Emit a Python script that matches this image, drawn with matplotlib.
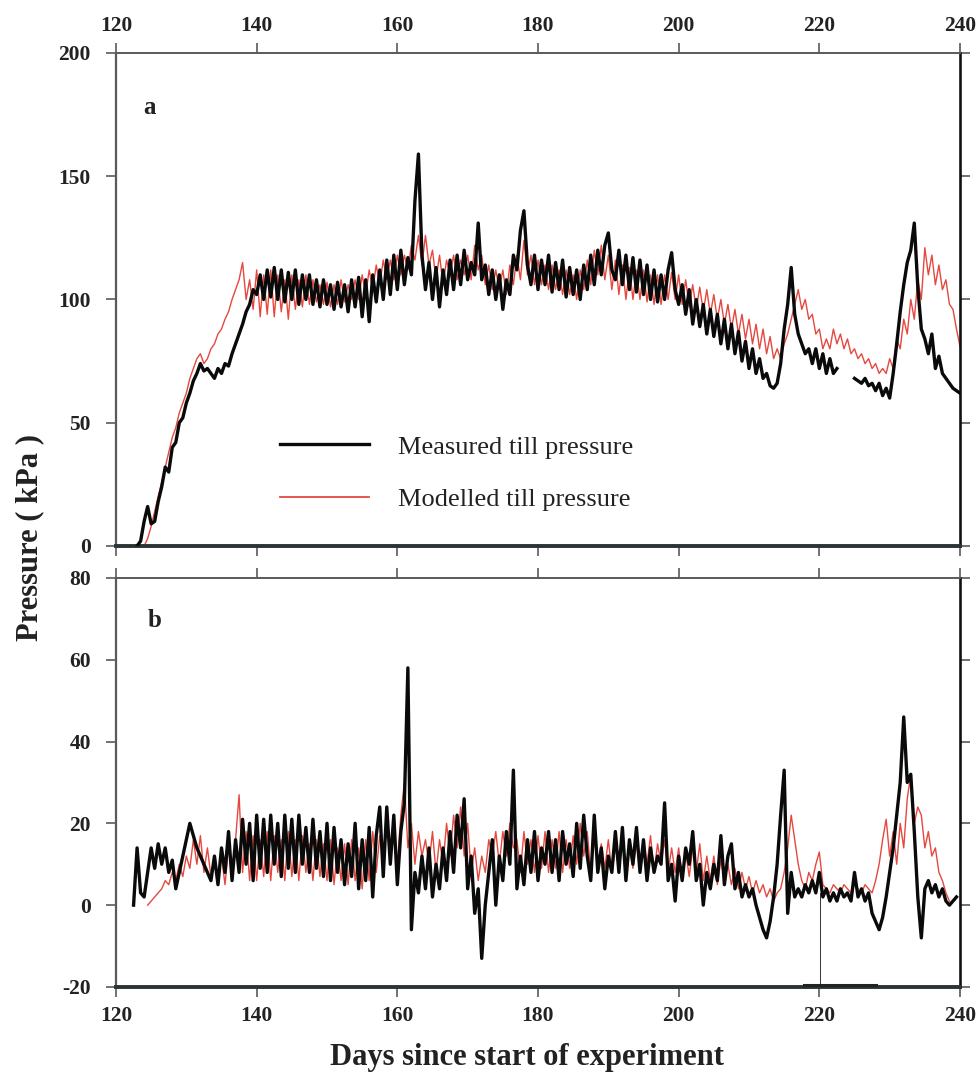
import numpy as np
import matplotlib.pyplot as plt

nan = np.nan

# panel a: till pressure (kPa), half-day steps
measured_a_start = 123.0
measured_a = [
    0, 2, 10, 16, 9, 10, 18, 24, 32, 30,            # 123
    40, 42, 50, 52, 58, 62, 67, 70, 74, 71,         # 128
    72, 70, 68, 72, 70, 74, 73, 78, 82, 86,         # 133
    90, 95, 98, 104, 102, 110, 100, 112, 101, 113,  # 138
    100, 112, 99, 111, 100, 112, 98, 110, 100, 110, # 143
    98, 108, 97, 108, 98, 106, 96, 107, 97, 106,    # 148
    95, 108, 97, 109, 93, 108, 91, 110, 99, 112,    # 153
    100, 116, 102, 118, 104, 120, 106, 117, 110, 140,  # 158
    159, 118, 104, 115, 100, 113, 97, 112, 102, 116,   # 163
    104, 118, 106, 120, 108, 115, 110, 131, 108, 114,  # 168
    102, 112, 100, 110, 96, 108, 102, 118, 112, 128,   # 173
    136, 114, 106, 118, 104, 116, 106, 118, 103, 115,  # 178
    104, 116, 101, 113, 102, 112, 100, 114, 104, 118,  # 183
    106, 120, 110, 122, 127, 112, 108, 120, 106, 118,  # 188
    104, 117, 103, 116, 102, 114, 100, 112, 99, 110,   # 193
    100, 112, 119, 104, 98, 106, 94, 104, 90, 100,     # 198
    89, 98, 86, 96, 85, 94, 82, 92, 80, 90,            # 203
    78, 87, 75, 83, 72, 80, 70, 76, 68, 70,            # 208
    65, 64, 66, 74, 88, 98, 113, 94, 86, 82,           # 213
    78, 80, 74, 80, 72, 78, 70, 76, 70, 72,            # 218
    nan, nan, nan, nan, 68, 67, 66, 68, 65, 66,        # 223
    63, 66, 61, 64, 60, 70, 82, 95, 106, 115,          # 228
    120, 131, 105, 88, 84, 78, 86, 72, 77, 70,         # 233
    68, 66, 64, 63, 62,                                # 238
]

modelled_a_start = 124.0
modelled_a = [
    0, 3, 8, 14, 20, 26, 32, 38, 44, 48,               # 124
    54, 58, 62, 68, 72, 76, 78, 74, 76, 80,            # 129
    82, 86, 88, 92, 95, 100, 104, 108, 115, 100,       # 134
    108, 96, 112, 93, 110, 94, 112, 93, 110, 95,       # 139
    108, 92, 110, 96, 108, 97, 110, 98, 108, 99,       # 144
    106, 98, 107, 97, 106, 98, 108, 99, 106, 100,      # 149
    108, 100, 110, 102, 112, 104, 114, 106, 116, 108,  # 154
    116, 108, 118, 110, 118, 112, 122, 116, 126, 114,  # 159
    126, 114, 120, 108, 118, 106, 116, 110, 118, 108,  # 164
    116, 110, 118, 108, 122, 112, 118, 106, 114, 104,  # 169
    112, 104, 112, 102, 114, 106, 118, 108, 124, 110,  # 174
    118, 106, 116, 106, 114, 104, 114, 104, 112, 102,  # 179
    112, 102, 110, 100, 112, 104, 116, 106, 120, 110,  # 184
    122, 108, 118, 104, 116, 102, 114, 100, 113, 100,  # 189
    112, 100, 112, 99, 110, 98, 110, 98, 110, 100,     # 194
    111, 100, 110, 98, 108, 97, 106, 96, 105, 95,      # 199
    104, 94, 102, 92, 100, 90, 98, 88, 96, 86,         # 204
    94, 84, 92, 82, 90, 80, 88, 78, 85, 76,            # 209
    80, 76, 82, 86, 92, 98, 104, 96, 100, 92,          # 214
    94, 86, 88, 80, 84, 80, 88, 82, 86, 80,            # 219
    84, 78, 80, 76, 78, 74, 76, 72, 74, 70,            # 224
    72, 70, 76, 72, 84, 80, 92, 86, 100, 92,           # 229
    108, 100, 121, 110, 118, 106, 114, 104, 108, 98,   # 234
    96, 88, 81,                                        # 239
]

# panel b
measured_b_start = 122.5
measured_b = [
    0, 14, 3, 2, 8, 14, 9, 15, 10, 14,                 # 122.5
    8, 11, 4, 8, 12, 16, 20, 17, 14, 12,               # 127.5
    10, 8, 6, 12, 5, 14, 8, 18, 6, 16,                 # 132.5
    8, 21, 10, 20, 6, 22, 9, 21, 8, 22,                # 137.5
    10, 20, 7, 22, 9, 21, 8, 22, 10, 19,               # 142.5
    8, 21, 9, 18, 7, 20, 6, 19, 8, 16,                 # 147.5
    5, 15, 7, 20, 4, 16, 6, 19, 2, 17,                 # 152.5
    24, 7, 24, 10, 22, 5, 18, 25, 58, -6,              # 157.5
    8, 3, 12, 4, 14, 2, 10, 4, 14, 6,                  # 162.5
    18, 8, 22, 14, 26, 4, 12, -2, 4, -13,              # 167.5
    0, 8, 16, 0, 12, 6, 18, 10, 33, 4,                 # 172.5
    12, 5, 16, 8, 18, 6, 14, 10, 18, 8,                # 177.5
    16, 6, 18, 10, 15, 7, 20, 9, 22, 12,               # 182.5
    6, 22, 8, 14, 4, 12, 8, 18, 8, 19,                 # 187.5
    6, 16, 10, 19, 8, 16, 6, 14, 8, 12,                # 192.5
    10, 25, 6, 10, 1, 12, 6, 14, 10, 18,               # 197.5
    6, 10, 0, 8, 4, 10, 6, 17, 5, 12,                  # 202.5
    15, 4, 8, 2, 5, 2, 4, 0, -3, -6,                   # 207.5
    -8, -4, 2, 10, 22, 33, -2, 8, 2, 4,                # 212.5
    2, 5, 3, 6, 3, 8, 2, 4, 1, 3,                      # 217.5
    1, 4, 2, 3, 1, 8, 2, 4, 1, 3,                      # 222.5
    -2, -4, -6, -3, 2, 8, 14, 22, 30, 46,              # 227.5
    30, 32, 18, 2, -8, 4, 6, 3, 5, 2,                  # 232.5
    4, 1, 0, 1, 2,                                     # 237.5
]

modelled_b_start = 124.5
modelled_b = [
    0, 1, 2, 3, 4, 6, 5, 8, 6, 10,                     # 124.5
    7, 12, 9, 16, 10, 17, 8, 14, 7, 12,                # 129.5
    6, 12, 5, 14, 7, 16, 27, 8, 18, 6,                 # 134.5
    17, 6, 16, 7, 18, 6, 17, 8, 16, 6,                 # 139.5
    18, 7, 16, 6, 17, 8, 15, 6, 16, 7,                 # 144.5
    15, 6, 16, 5, 14, 6, 15, 5, 16, 6,                 # 149.5
    14, 4, 16, 6, 18, 8, 17, 10, 20, 12,               # 154.5
    18, 10, 22, 30, 14, 20, 10, 18, 12, 16,            # 159.5
    10, 18, 8, 16, 10, 20, 12, 22, 14, 24,             # 164.5
    12, 20, 8, 14, 6, 12, 8, 16, 12, 18,               # 169.5
    10, 18, 12, 20, 14, 16, 8, 18, 10, 16,             # 174.5
    8, 17, 9, 18, 8, 16, 9, 18, 8, 16,                 # 179.5
    9, 17, 10, 20, 12, 18, 8, 16, 10, 15,              # 184.5
    9, 16, 8, 14, 10, 18, 8, 14, 9, 15,                # 189.5
    8, 16, 10, 17, 8, 15, 10, 16, 8, 14,               # 194.5
    8, 14, 6, 13, 7, 14, 8, 15, 6, 12,                 # 199.5
    6, 12, 5, 11, 6, 10, 5, 9, 4, 8,                   # 204.5
    4, 7, 3, 6, 3, 5, 2, 4, 1, 3,                      # 209.5
    4, 8, 14, 22, 16, 10, 6, 4, 8, 6,                  # 214.5
    10, 13, 5, 4, 3, 5, 4, 3, 5, 4,                    # 219.5
    3, 5, 4, 3, 5, 4, 3, 6, 10, 16,                    # 224.5
    21, 12, 18, 10, 20, 14, 26, 32, 20, 24,            # 229.5
    22, 14, 18, 12, 14, 8, 6, 3, 1,                    # 234.5
]

x_ticks = [120, 140, 160, 180, 200, 220, 240]
a_yticks = [0, 50, 100, 150, 200]
b_yticks = [-20, 0, 20, 40, 60, 80]


def days(start, values):
    return start + 0.5 * np.arange(len(values))


plt.rcParams['font.family'] = ['Liberation Serif', 'DejaVu Serif']
plt.rcParams['font.weight'] = 'bold'
plt.rcParams['axes.unicode_minus'] = False
black = '#0a0a0a'
red = '#e5483f'
spine_grey = '#5a5a5a'
txt = '#222222'

fig = plt.figure(figsize=(9.78, 10.75), dpi=100)
ax1 = fig.add_axes([0.1186, 0.4921, 0.8630, 0.4586])
ax2 = fig.add_axes([0.1186, 0.0819, 0.8630, 0.3805])

ax1.plot(days(modelled_a_start, modelled_a), modelled_a, color=red, lw=1.0, zorder=2)
ax1.plot(days(measured_a_start, measured_a), measured_a, color=black, lw=2.4, zorder=3)
ax2.plot(days(modelled_b_start, modelled_b), modelled_b, color=red, lw=1.0, zorder=2)
ax2.plot(days(measured_b_start, measured_b), measured_b, color=black, lw=2.4, zorder=3)

# stray marks in panel b
ax2.plot([220.1, 220.1], [-20, 3], color='#333333', lw=0.7, zorder=1)
ax2.plot([217.8, 228], [-19.6, -19.6], color='#222222', lw=2.2, zorder=4)

ax1.set_xlim(120, 240)
ax1.set_ylim(0, 200)
ax2.set_xlim(120, 240)
ax2.set_ylim(-20, 80)

for ax, yt in ((ax1, a_yticks), (ax2, b_yticks)):
    ax.set_xticks(x_ticks)
    ax.set_yticks(yt)
    ax.tick_params(direction='out', length=7, width=1.2, color=spine_grey,
                   labelsize=15.5, labelcolor=txt,
                   top=True, right=True, left=True, bottom=True)
    ax.tick_params(axis='y', pad=11)
    ax.spines['top'].set_color(spine_grey)
    ax.spines['top'].set_linewidth(1.4)
    ax.spines['left'].set_color(spine_grey)
    ax.spines['left'].set_linewidth(1.6)
    ax.spines['bottom'].set_color('#2a3434')
    ax.spines['bottom'].set_linewidth(2.8)
    ax.spines['right'].set_color('#111111')
    ax.spines['right'].set_linewidth(1.9)

ax1.tick_params(axis='x', labeltop=True, labelbottom=False, pad=5)
ax2.tick_params(axis='x', labeltop=False, labelbottom=True, pad=7)

ax1.text(0.040, 178, 'a', transform=ax1.get_yaxis_transform(), fontsize=18,
         fontweight='bold', color=txt, ha='center', va='center')
ax2.text(0.046, 69.5, 'b', transform=ax2.get_yaxis_transform(), fontsize=18,
         fontweight='bold', color=txt, ha='center', va='center')

h1, = ax1.plot([], [], color=black, lw=2.4)
h2, = ax1.plot([], [], color=red, lw=1.3)
ax1.legend([h1, h2], ['Measured till pressure', 'Modelled till pressure'],
           loc='center left', bbox_to_anchor=(0.194, 0.148), frameon=False,
           prop={'family': 'Liberation Serif', 'weight': 'normal', 'size': 19},
           handlelength=3.4, handletextpad=1.1, labelspacing=1.1,
           borderpad=0, borderaxespad=0, labelcolor=txt)

fig.text(0.030, 0.50, 'Pressure ( kPa )', rotation=90, fontsize=22,
         fontweight='bold', color=txt, ha='center', va='center')
fig.text(0.539, 0.016, 'Days since start of experiment', fontsize=22,
         fontweight='bold', color=txt, ha='center', va='center')

fig.savefig('out.png', dpi=100)
